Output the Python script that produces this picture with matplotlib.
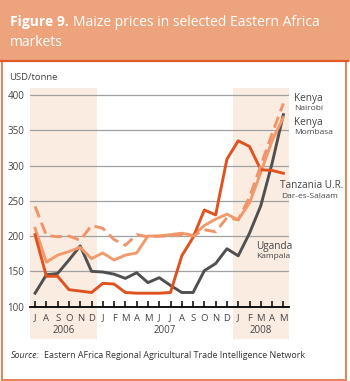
import matplotlib
matplotlib.use("Agg")
import matplotlib.pyplot as plt
from matplotlib.patches import Rectangle

months = ["J", "A", "S", "O", "N", "D", "J", "F", "M", "A", "M", "J", "J", "A", "S", "O", "N", "D",
          "J", "F", "M", "A", "M"]
years = ["2006", "2007", "2008"]
year_centers = [2.5, 11.5, 20.0]

kenya_nairobi = [242, 201, 199, 200, 194, 215, 211, 195, 187, 202, 199, 200, 200, 202, 200, 209,
                 206, 226, 223, 255, 300, 345, 388]
kenya_mombasa = [211, 163, 173, 178, 184, 168, 176, 166, 173, 176, 200, 200, 202, 204, 201, 215,
                 224, 231, 223, 247, 290, 335, 368]
tanzania = [202, 143, 143, 124, 122, 120, 133, 132, 120, 119, 119, 119, 120, 172, 198, 237,
            230, 309, 335, 327, 294, 293, 289]
uganda = [119, 145, 147, 166, 186, 150, 149, 146, 140, 148, 134, 141, 130, 120, 120, 151,
          161, 182, 172, 204, 243, 303, 372]
yticks = [100, 150, 200, 250, 300, 350, 400]

W, H = 350, 381
DPI = 100
FONT = ["Open Sans", "DejaVu Sans"]
plt.rcParams["font.family"] = FONT
fig = plt.figure(figsize=(W / DPI, H / DPI), dpi=DPI)


def fx(px):
    return px / W


def fy(py):
    return 1 - py / H


# Title band and frame
fig.patches.append(Rectangle((0, fy(61)), 1, 1 - fy(61), transform=fig.transFigure,
                             facecolor="#eda47c", edgecolor="none", zorder=-5))
fig.patches.append(Rectangle((fx(1.5), fy(379.5)), fx(346) - fx(1.5), fy(61) - fy(379.5),
                             transform=fig.transFigure, facecolor="white",
                             edgecolor="#e8784a", linewidth=1.3, zorder=-5))
fig.lines.append(plt.Line2D([0, fx(348)], [fy(61), fy(61)], transform=fig.transFigure,
                            color="#df5a26", linewidth=1.6, zorder=-4))

t1 = fig.text(fx(10), fy(22), "Figure 9.", color="white", fontsize=10, fontweight="bold",
              va="center", ha="left")
fig.canvas.draw()
bb = t1.get_window_extent()
fig.text((bb.x1 + 4) / W, fy(22), "Maize prices in selected Eastern Africa", color="white",
         fontsize=10, va="center", ha="left")
fig.text(fx(10), fy(42), "markets", color="white", fontsize=10, va="center", ha="left")

# Axes
ax_left, ax_right = 30, 289
ax_bottom, ax_top = 306.6, 87.9
ax = fig.add_axes([fx(ax_left), fy(ax_bottom), fx(ax_right - ax_left), (ax_bottom - ax_top) / H])
ax.set_xlim(-0.45, 22.5)
ax.set_ylim(100, 410)
ax.patch.set_alpha(0)

shade = "#fbece2"
ax.axvspan(-0.45, 5.5, ymin=-0.148, ymax=1, color=shade, clip_on=False, zorder=0, lw=0)
ax.axvspan(17.5, 22.5, ymin=-0.148, ymax=1, color=shade, clip_on=False, zorder=0, lw=0)

for v in yticks[1:]:
    ax.axhline(v, color="#a0a0a0", linewidth=0.9, zorder=1)

x = list(range(len(months)))
lw = 2.1
ax.plot(x, uganda, color="#505050", linewidth=lw, zorder=3)
ax.plot(x, tanzania, color="#e0521f", linewidth=lw, zorder=4)
ax.plot(x, kenya_mombasa, color="#f19a6c", linewidth=lw, zorder=3)
ax.plot(x, kenya_nairobi, color="#f0946a", linewidth=lw, zorder=5, dashes=(4.0, 2.0))

for s in ["top", "right", "left"]:
    ax.spines[s].set_visible(False)
ax.spines["bottom"].set_color("black")
ax.spines["bottom"].set_linewidth(1.3)
ax.spines["bottom"].set_zorder(6)

ax.set_yticks(yticks)
ax.set_yticklabels([str(v) for v in yticks])
ax.tick_params(axis="y", length=0, pad=4, labelsize=7, labelcolor="#444444")
ax.set_xticks(x)
ax.set_xticklabels(months)
ax.tick_params(axis="x", direction="in", length=4, width=1.1, color="black", pad=5,
               labelsize=6.8, labelcolor="#444444")

for yr, c in zip(years, year_centers):
    ax.text(c, -0.11, yr, transform=ax.get_xaxis_transform(), ha="center", va="center",
            fontsize=7, color="#444444")

fig.text(fx(9), fy(78), "USD/tonne", fontsize=6.8, color="#444444", va="center", ha="left")

# Series labels
lab = dict(color="#444444", ha="left", va="center")
fig.text(fx(294), fy(98), "Kenya", fontsize=7.2, **lab)
fig.text(fx(294), fy(109), "Nairobi", fontsize=6, **lab)
fig.text(fx(294), fy(122), "Kenya", fontsize=7.2, **lab)
fig.text(fx(294), fy(133), "Mombasa", fontsize=6, **lab)
fig.text(fx(280), fy(186), "Tanzania U.R.", fontsize=7.2, **lab)
fig.text(fx(281), fy(197), "Dar-es-Salaam", fontsize=6, **lab)
fig.text(fx(256), fy(246), "Uganda", fontsize=7.2, **lab)
fig.text(fx(256), fy(257), "Kampala", fontsize=6, **lab)

# Source
fig.text(fx(11), fy(355), "Source:", fontsize=6.4, style="italic", color="#333333",
         va="center", ha="left")
fig.text(fx(44), fy(355), "Eastern AFrica Regional Agricultural Trade Intelligence Network",
         fontsize=6.4, color="#333333", va="center", ha="left")

fig.savefig("out.png", dpi=DPI)
